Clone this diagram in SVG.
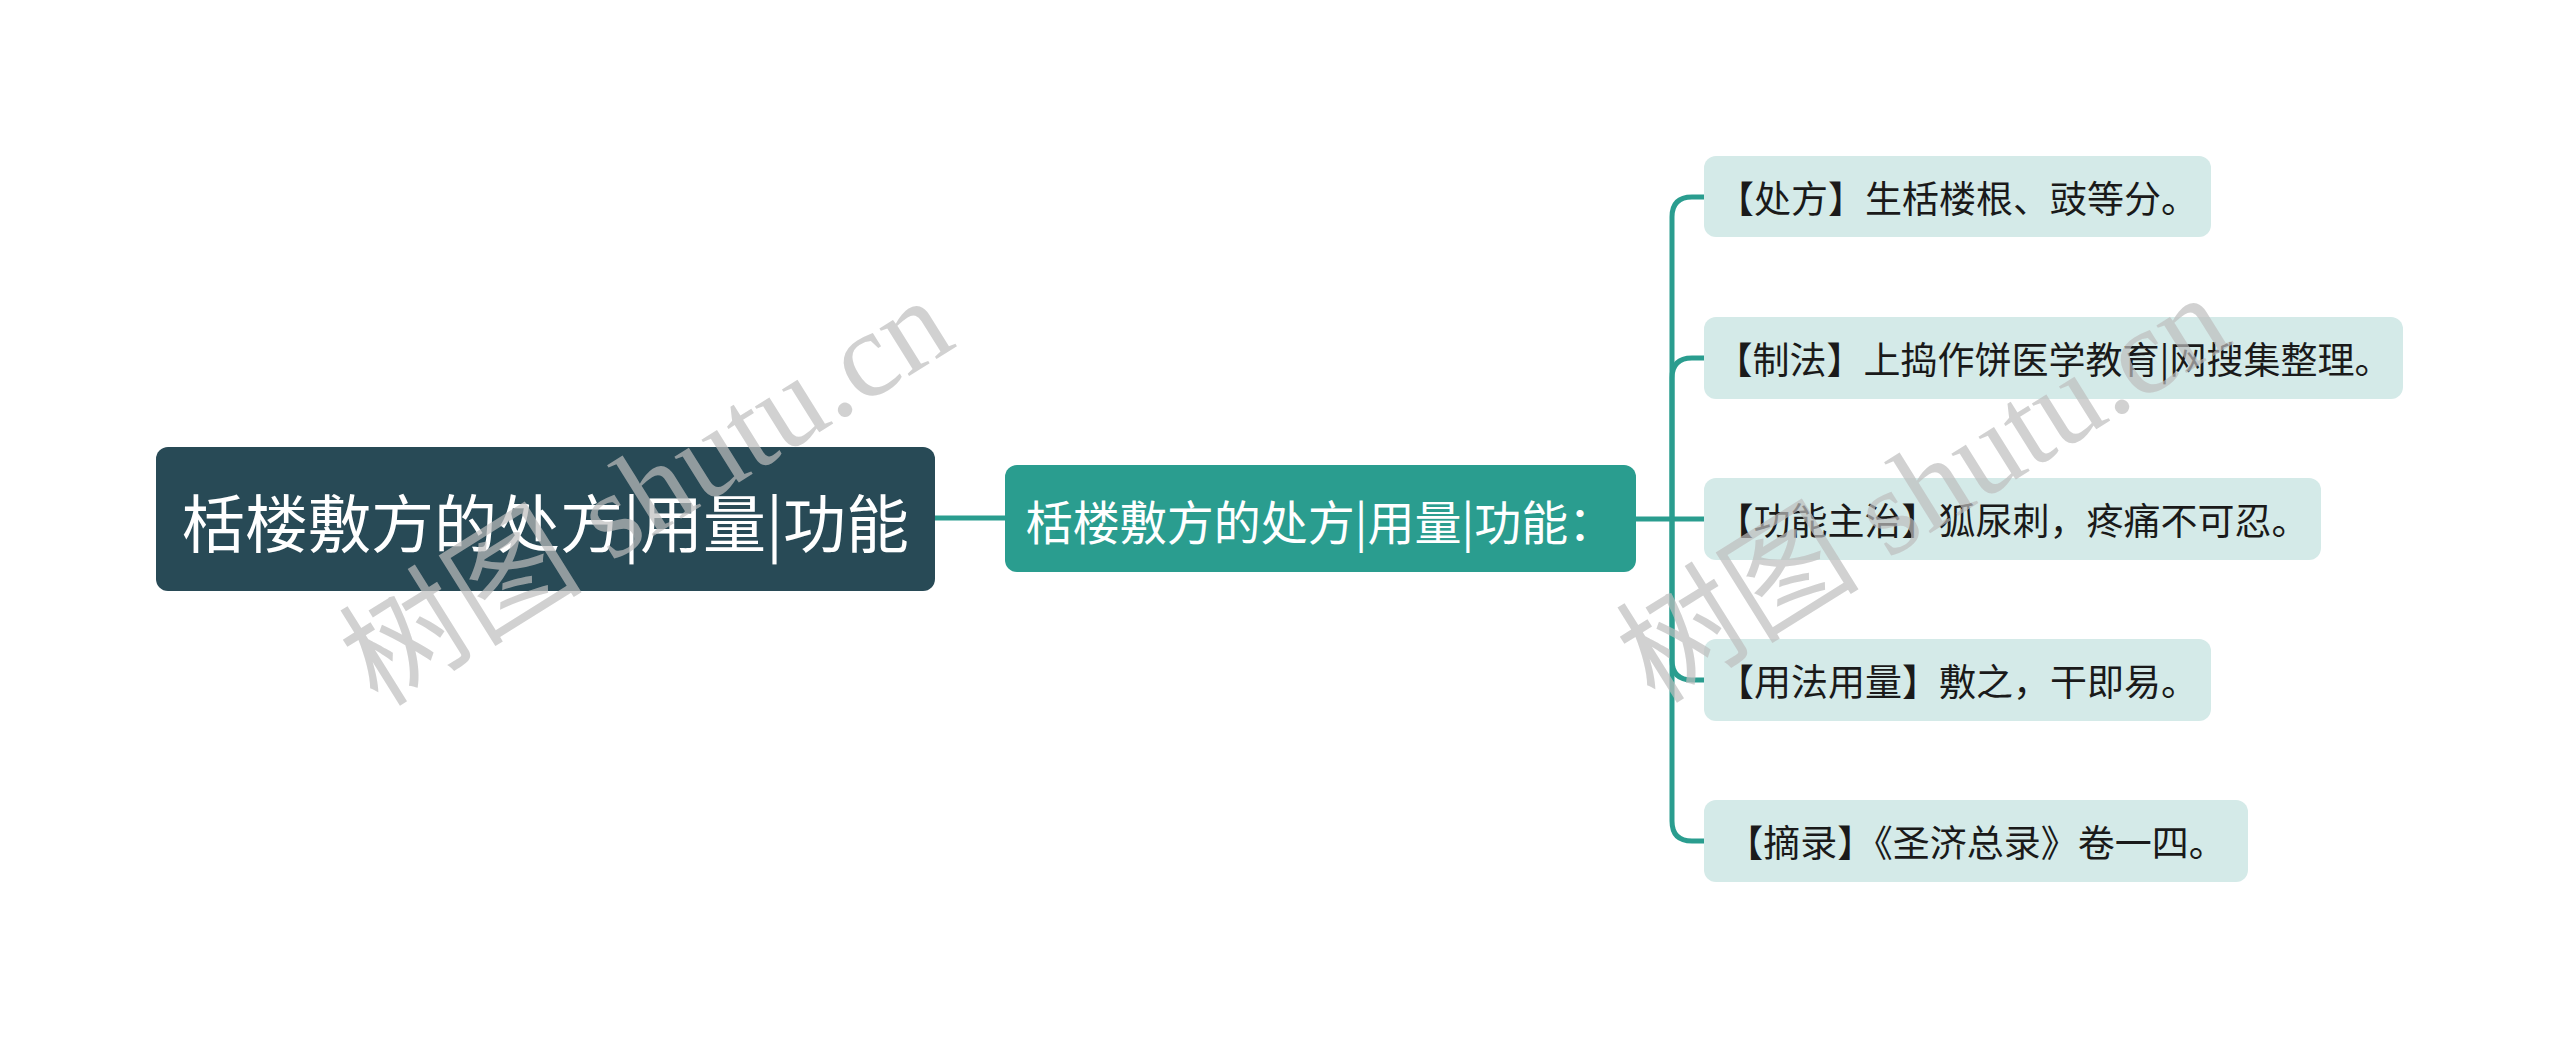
<svg xmlns="http://www.w3.org/2000/svg" width="2560" height="1038" viewBox="0 0 2560 1038">
<style>
.t{font-family:"Noto Sans CJK SC","Noto Sans",sans-serif;dominant-baseline:central;text-anchor:middle}
.root rect{fill:#284a56}
.root text{fill:#ffffff;font-size:63px}
.mid rect{fill:#2a9d8f}
.mid text{fill:#ffffff;font-size:47px}
.leaf rect{fill:#d4eae8}
.leaf text{fill:#1a1a1a;font-size:37px}
.conn path{fill:none;stroke:#2a9d8f;stroke-width:5;stroke-linecap:round}
.wm{font-family:"Liberation Serif","Noto Sans CJK SC",serif;font-size:122px;fill:#bdbdbd;fill-opacity:0.7}
</style>
<rect width="2560" height="1038" fill="#ffffff"/>
<g id="connectors" class="conn">
<path d="M935 518 H1005"/>
<path d="M1636 519 H1672"/>
<path d="M1672 519 V217 Q1672 197 1692 197 H1704"/>
<path d="M1672 519 V378 Q1672 358 1692 358 H1704"/>
<path d="M1672 519 H1704"/>
<path d="M1672 519 V660 Q1672 680 1692 680 H1704"/>
<path d="M1672 519 V821 Q1672 841 1692 841 H1704"/>
</g>
<g id="root" class="root">
<rect x="156" y="447" width="779" height="144" rx="12"/>
<text class="t" x="545.5" y="519">栝楼敷方的处方|用量|功能</text>
</g>
<g id="mid" class="mid">
<rect x="1005" y="465" width="631" height="107" rx="12"/>
<text class="t" x="1320.5" y="519">栝楼敷方的处方|用量|功能：</text>
</g>
<g id="leaf1" class="leaf">
<rect x="1704" y="156" width="507" height="81" rx="12"/>
<text class="t" x="1957.5" y="197">【处方】生栝楼根、豉等分。</text>
</g>
<g id="leaf2" class="leaf">
<rect x="1704" y="317" width="699" height="82" rx="12"/>
<text class="t" x="2053.5" y="358">【制法】上捣作饼医学教育|网搜集整理。</text>
</g>
<g id="leaf3" class="leaf">
<rect x="1704" y="478" width="617" height="82" rx="12"/>
<text class="t" x="2012.5" y="519">【功能主治】狐尿刺，疼痛不可忍。</text>
</g>
<g id="leaf4" class="leaf">
<rect x="1704" y="639" width="507" height="82" rx="12"/>
<text class="t" x="1957.5" y="680">【用法用量】敷之，干即易。</text>
</g>
<g id="leaf5" class="leaf">
<rect x="1704" y="800" width="544" height="82" rx="12"/>
<text class="t" x="1976" y="841">【摘录】《圣济总录》卷一四。</text>
</g>
<g id="watermark">
<text class="wm" transform="translate(378 708) rotate(-32)">树图 shutu.cn</text>
<text class="wm" transform="translate(1655 705) rotate(-32)">树图 shutu.cn</text>
</g>
</svg>
